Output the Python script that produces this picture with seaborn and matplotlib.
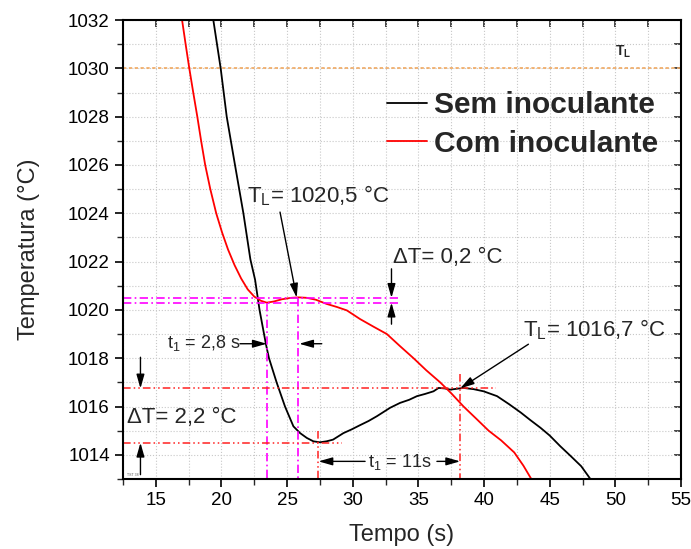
import numpy as np
import pandas as pd
import matplotlib
matplotlib.use('Agg')
import matplotlib.pyplot as plt
import seaborn as sns

# --- DATA ---
# Sem inoculante (black)
t_sem = [19.3, 19.38, 19.94, 20.4, 21.03, 21.67, 22.2, 22.56, 22.9, 23.39, 23.62, 24.2,
         24.84, 25.48, 25.99, 26.5, 27.0, 27.5, 28.0, 28.5, 29.29, 29.9, 30.56, 31.2, 31.84,
         32.85, 33.6, 34.3, 34.89, 35.5, 36.15, 36.54, 37.0, 37.43, 38.0, 38.44, 39.2, 39.97,
         40.99, 41.9, 42.8, 43.5, 44.3, 45.0, 45.8, 46.6, 47.4, 48.1]
T_sem = [1032.3, 1032.0, 1030.0, 1028.0, 1026.0, 1024.0, 1022.1, 1021.25, 1020.0, 1018.57, 1018.0, 1017.0,
         1016.0, 1015.18, 1014.9, 1014.7, 1014.56, 1014.52, 1014.56, 1014.63, 1014.9, 1015.05, 1015.23, 1015.4, 1015.6,
         1015.95, 1016.15, 1016.28, 1016.43, 1016.52, 1016.63, 1016.77, 1016.75, 1016.7, 1016.74, 1016.77, 1016.72, 1016.63,
         1016.43, 1016.1, 1015.75, 1015.45, 1015.12, 1014.8, 1014.36, 1013.95, 1013.53, 1013.0]

# Com inoculante (red)
t_com = [16.9, 17.0, 17.27, 17.55, 17.85, 18.16, 18.45, 18.76, 19.15, 19.6, 20.05, 20.5,
         21.0, 21.5, 22.0, 22.5, 23.0, 23.45, 24.0, 24.6, 25.3, 25.86, 26.5, 27.2, 28.0,
         28.8, 29.55, 30.56, 31.6, 32.6, 33.6, 34.63, 35.6, 36.66, 37.5, 38.44, 39.4, 40.35,
         41.3, 42.3, 43.0, 43.6]
T_com = [1032.4, 1032.0, 1031.0, 1030.0, 1029.0, 1028.0, 1027.0, 1026.0, 1025.0, 1024.0, 1023.2, 1022.5,
         1021.85, 1021.3, 1020.85, 1020.55, 1020.38, 1020.3, 1020.35, 1020.44, 1020.5, 1020.52, 1020.5, 1020.42, 1020.25,
         1020.12, 1019.98, 1019.62, 1019.3, 1019.0, 1018.5, 1018.0, 1017.5, 1017.0, 1016.55, 1016.0, 1015.5, 1015.0,
         1014.6, 1014.1, 1013.55, 1013.0]

labels = ['Sem inoculante', 'Com inoculante']
TL_eq = 1030.0
TL_com, TL_com_min = 1020.5, 1020.3
TL_sem, Tmin_sem = 1016.75, 1014.5
t_com_min, t_com_max = 23.45, 25.82
t_sem_min, t_sem_max = 27.39, 38.18

df = pd.concat([
    pd.DataFrame({'Tempo': t_sem, 'Temp': T_sem, 'serie': labels[0]}),
    pd.DataFrame({'Tempo': t_com, 'Temp': T_com, 'serie': labels[1]}),
])

# --- STYLE ---
sns.set_theme(style='white')
plt.rcParams['font.family'] = ['Liberation Sans', 'DejaVu Sans']
plt.rcParams['mathtext.fontset'] = 'custom'
plt.rcParams['mathtext.rm'] = 'Liberation Sans'
plt.rcParams['mathtext.it'] = 'Liberation Sans:italic'
plt.rcParams['mathtext.bf'] = 'Liberation Sans:bold'

MAGENTA = '#FF00FF'
RED_DASH = '#FF2020'
ORANGE = '#F0A860'
dashdot = (0, (5, 2, 1, 2))
dashdotdot = (0, (5, 2, 1, 2, 1, 2))

fig = plt.figure(figsize=(6.91, 5.49), dpi=100)
ax = fig.add_axes([0.178, 0.1275, 0.8075, 0.836])

sns.lineplot(data=df, x='Tempo', y='Temp', hue='serie', palette=['black', 'red'],
             sort=False, estimator=None, lw=1.3, ax=ax)

ax.set_xlim(12.5, 55)
ax.set_ylim(1013, 1032)
ax.set_xticks(np.arange(15, 56, 5))
ax.set_xticks(np.arange(12.5, 55.1, 2.5), minor=True)
ax.set_yticks(np.arange(1014, 1033, 2))
ax.set_yticks(np.arange(1013, 1032.1, 1), minor=True)
ax.grid(True, which='both', color='#c8c8c8', linestyle=':', lw=0.8)
ax.set_axisbelow(True)
ax.tick_params(which='major', direction='out', length=6, width=1.2, labelsize=13.5, colors='black')
ax.tick_params(which='minor', direction='out', length=4, width=1.0)
ax.tick_params(left=True, bottom=True, which='both')
for s in ax.spines.values():
    s.set_linewidth(1.5)
    s.set_color('black')

# mirrored inward ticks on top / right
top = ax.secondary_xaxis('top')
top.set_xticks(np.arange(12.5, 55.1, 2.5))
top.tick_params(direction='in', length=5, width=1.2, labeltop=False)
right = ax.secondary_yaxis('right')
right.set_yticks(np.arange(1013, 1032.1, 1))
right.tick_params(direction='in', length=5, width=1.2, labelright=False)

ax.set_xlabel('Tempo (s)', fontsize=17, labelpad=11)
ax.set_ylabel('Temperatura (°C)', fontsize=17, labelpad=20)

# liquidus line
ax.axhline(TL_eq, color=ORANGE, ls=(0, (2, 1.5)), lw=1.2, zorder=1)
ax.text(50.0, 1030.7, r'$\mathbf{T_L}$', fontsize=10, ha='left', va='center')

# guide lines
ax.plot([12.5, 33.6], [TL_com, TL_com], color=MAGENTA, ls=dashdot, lw=1.2)
ax.plot([12.5, 33.6], [TL_com_min, TL_com_min], color=MAGENTA, ls=dashdot, lw=1.2)
ax.plot([t_com_min, t_com_min], [TL_com_min, 1013], color=MAGENTA, ls=dashdot, lw=1.2)
ax.plot([t_com_max, t_com_max], [TL_com, 1013], color=MAGENTA, ls=dashdot, lw=1.2)
ax.plot([12.5, 40.9], [TL_sem, TL_sem], color=RED_DASH, ls=dashdotdot, lw=1.1)
ax.plot([12.5, 29.2], [Tmin_sem, Tmin_sem], color=RED_DASH, ls=dashdotdot, lw=1.1)
ax.plot([t_sem_min, t_sem_min], [1015.0, 1013], color=RED_DASH, ls=dashdotdot, lw=1.1)
ax.plot([t_sem_max, t_sem_max], [1017.35, 1013], color=RED_DASH, ls=dashdotdot, lw=1.1)

arr = dict(arrowstyle='-|>,head_length=0.7,head_width=0.2', color='black', lw=1.0,
           shrinkA=0, shrinkB=0)

def arrow(tail, head):
    ax.annotate('', xy=head, xytext=tail, arrowprops=arr)

# annotations
ax.text(21.92, 1024.72, r'$\mathrm{T_L}$= 1020,5 °C', fontsize=16, ha='left', va='center')
arrow((24.46, 1024.05), (25.73, 1020.51))

ax.text(33.06, 1022.19, 'ΔT= 0,2 °C', fontsize=16, ha='left', va='center')
arrow((32.95, 1021.7), (32.95, TL_com))
arrow((32.95, 1019.41), (32.95, TL_com_min))

ax.text(15.82, 1018.62, r'$\mathrm{t_1}$ = 2,8 s', fontsize=13, ha='left', va='center')
arrow((21.41, 1018.6), (t_com_min, 1018.6))
arrow((27.64, 1018.6), (t_com_max + 0.1, 1018.6))

ax.text(12.84, 1015.55, 'ΔT= 2,2 °C', fontsize=16, ha='left', va='center')
arrow((13.83, 1018.04), (13.83, TL_sem))
arrow((13.83, 1013.18), (13.83, Tmin_sem))

ax.text(31.17, 1013.69, r'$\mathrm{t_1}$ = 11s', fontsize=13, ha='left', va='center')
arrow((30.94, 1013.73), (t_sem_min, 1013.73))
arrow((36.41, 1013.73), (t_sem_max, 1013.73))

ax.text(43.0, 1019.2, r'$\mathrm{T_L}$= 1016,7 °C', fontsize=16, ha='left', va='center')
arrow((43.38, 1018.58), (t_sem_max, TL_sem))

ax.text(12.8, 1013.12, 'TST 38', fontsize=2.5, color='#555555')

leg = ax.legend(loc='upper left', bbox_to_anchor=(0.473, 0.845), frameon=False,
                prop={'weight': 'bold', 'size': 21.5}, handlelength=1.34,
                handletextpad=0.22, labelspacing=0.36, borderpad=0, borderaxespad=0)
for h in leg.get_lines():
    h.set_linewidth(1.3)

fig.savefig('out.png', dpi=100)
